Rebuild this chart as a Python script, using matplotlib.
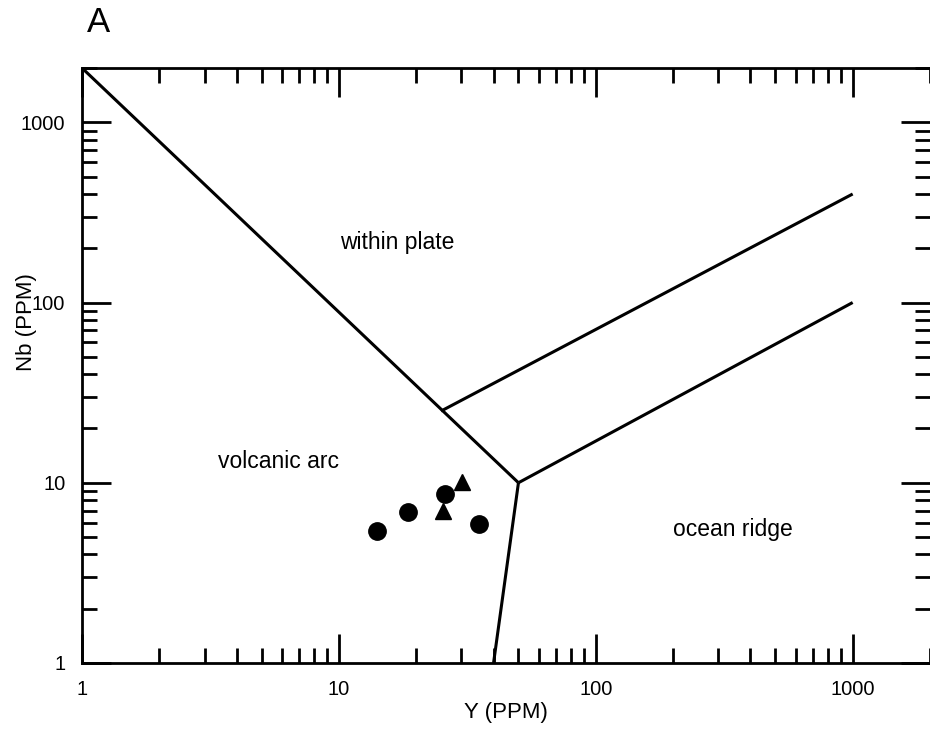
import matplotlib
matplotlib.use("Agg")
import matplotlib.pyplot as plt
from matplotlib.ticker import LogLocator, NullFormatter, FixedLocator, FixedFormatter

plt.rcParams['font.family'] = ['Liberation Sans', 'DejaVu Sans']

# field boundaries (Y, Nb)
boundaries = [
    ([1, 50], [2000, 10]),
    ([25, 1000], [25, 400]),
    ([50, 1000], [10, 100]),
    ([50, 40], [10, 1]),
]

# samples
circle_y = [14.1, 18.5, 25.8, 35.2]
circle_nb = [5.42, 6.91, 8.62, 5.90]
tri_y = [30.1, 25.4]
tri_nb = [10.1, 6.99]

field_names = ["within plate", "volcanic arc", "ocean ridge"]
field_x = [16.8, 5.8, 342]
field_yv = [216, 13.2, 5.47]

tick_vals = [1, 10, 100, 1000]
tick_labels = ["1", "10", "100", "1000"]

fig = plt.figure(figsize=(9.3, 7.32), dpi=100)
ax = fig.add_axes([82 / 930, 69 / 732, 848 / 930, 595 / 732])

for xs, ys in boundaries:
    ax.plot(xs, ys, color='black', lw=2.2, solid_capstyle='butt')

ax.plot(circle_y, circle_nb, 'o', color='black', ms=12.5, ls='none')
ax.plot(tri_y, tri_nb, '^', color='black', ms=12, ls='none')

for name, fx, fy in zip(field_names, field_x, field_yv):
    ax.text(fx, fy, name, fontsize=16.5, ha='center', va='center')

ax.set_xscale('log')
ax.set_yscale('log')
ax.set_xlim(1, 2000)
ax.set_ylim(1, 2000)

for axis in (ax.xaxis, ax.yaxis):
    axis.set_major_locator(FixedLocator(tick_vals))
    axis.set_major_formatter(FixedFormatter(tick_labels))
    axis.set_minor_locator(LogLocator(base=10, subs=range(2, 10)))
    axis.set_minor_formatter(NullFormatter())

ax.tick_params(which='both', direction='in', top=True, right=True, width=2, labelsize=14.5)
ax.tick_params(which='major', length=21, pad=12)
ax.tick_params(which='minor', length=10.5)
for s in ax.spines.values():
    s.set_linewidth(2)
ax.spines['right'].set_visible(False)

ax.set_xlabel("Y (PPM)", fontsize=16)
ax.set_ylabel("Nb (PPM)", fontsize=16)
ax.xaxis.set_label_coords(0.5, -0.065)
ax.yaxis.set_label_coords(-0.053, 0.573)

fig.text(98 / 930, 1 - 22 / 732, "A", fontsize=25, ha='center', va='center')

fig.savefig("out.png", dpi=100)
